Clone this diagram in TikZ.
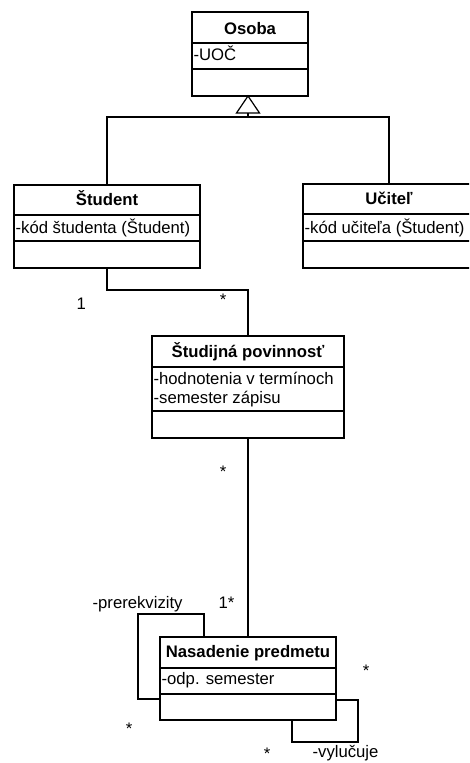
\documentclass[tikz,border=0pt]{standalone}
\usepackage{fontspec}
\setmainfont{Liberation Sans}
\begin{document}
\begin{tikzpicture}[x=1pt,y=-1pt, line width=1.2pt,
  box/.style={draw, anchor=north west, inner sep=0pt, outer sep=0pt},
  ttl/.style={font=\fontsize{16.7}{19}\selectfont\bfseries, anchor=base, inner sep=0pt},
  attr/.style={font=\fontsize{16.7}{19}\selectfont, anchor=base west, inner sep=0pt},
  lbl/.style={font=\fontsize{16.7}{19}\selectfont, anchor=base west, inner sep=0pt},
  star/.style={font=\fontsize{16.7}{19}\selectfont, anchor=base, inner sep=0pt},
  conn/.style={draw, line width=1.2pt}]
\useasboundingbox (0,0) rectangle (469,763);
\clip (0,0) rectangle (469,763);
\fill[white] (0,0) rectangle (469,763);

% Osoba
\node[box, minimum width=116pt, minimum height=84pt] (osoba) at (192,12) {};
\draw (192,43) -- (308,43);
\draw (192,69) -- (308,69);
\node[ttl] (osobaT) at (250,34) {Osoba};
\node[attr] (osobaA) at (193,60) {-UOČ};

% Student
\node[box, minimum width=186pt, minimum height=83pt] (student) at (14,185) {};
\draw (14,215) -- (200,215);
\draw (14,241) -- (200,241);
\node[ttl] (studentT) at (107,205) {Študent};
\node[attr] (studentA) at (15,233) {-kód študenta (Študent)};

% Ucitel
\node[box, minimum width=172pt, minimum height=84pt] (ucitel) at (303,184) {};
\draw (303,214) -- (475,214);
\draw (303,241) -- (475,241);
\node[ttl] (ucitelT) at (389,204) {Učiteľ};
\node[attr] (ucitelA) at (304,233) {-kód učiteľa (Študent)};

% Studijna povinnost
\node[box, minimum width=192pt, minimum height=102pt] (studijna) at (152,336) {};
\draw (152,367) -- (344,367);
\draw (152,411) -- (344,411);
\node[ttl] (studijnaT) at (248,357) {Študijná povinnosť};
\node[attr] (studijnaA1) at (153,384) {-hodnotenia v termínoch};
\node[attr] (studijnaA2) at (153,403) {-semester zápisu};

% Nasadenie predmetu
\node[box, minimum width=176pt, minimum height=83pt] (nasadenie) at (160,637) {};
\draw (160,668) -- (336,668);
\draw (160,694) -- (336,694);
\node[ttl] (nasadenieT) at (248,657) {Nasadenie predmetu};
\node[attr] (nasadenieA) at (161,684) {-odp. semester};

% Generalization
\coordinate (apex) at (248,96);
\coordinate (tri) at (248,113);
\coordinate (gen) at (248,117);
\draw[fill=white] (apex) -- (236.5,113) -- (259.5,113) -- cycle;
\draw[conn] (tri) -- (gen) -| (student.north);
\draw[conn] (gen) -| (ucitel.north);

% Student - Studijna
\draw[conn] (student.south) -- ++(0,22) -| (studijna.north);
\node[lbl] (one1) at (76,309) {1};
\node[star] (s1) at (223,305.5) {*};

% Studijna - Nasadenie
\draw[conn] (studijna.south) -- (nasadenie.north);
\node[star] (s2) at (223,477.5) {*};
\node[lbl] (onestar) at (218,608) {1*};

% prerekvizity self loop
\coordinate (p1) at (204,637);
\coordinate (p2) at (160,699);
\draw[conn] (p1) -- (204,614) -- (138,614) -- (138,699) -- (p2);
\node[lbl] (prer) at (92,608) {-prerekvizity};
\node[star] (s3) at (129,734.5) {*};

% vylucuje self loop
\coordinate (v1) at (336,700);
\coordinate (v2) at (292,720);
\draw[conn] (v1) -- (358,700) -- (358,742) -- (292,742) -- (v2);
\node[lbl] (vyl) at (312,757) {-vylučuje};
\node[star] (s4) at (267,759.5) {*};
\node[star] (s5) at (366,676.5) {*};
\end{tikzpicture}
\end{document}
